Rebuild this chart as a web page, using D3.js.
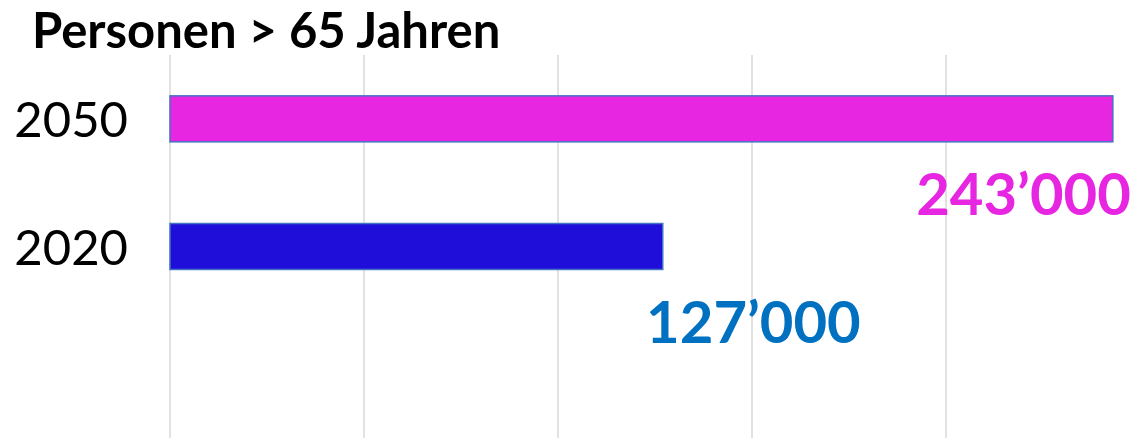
<!DOCTYPE html>
<html>
<head>
<meta charset="utf-8">
<script src="https://cdn.jsdelivr.net/npm/d3@7"></script>
<style>
  body { margin: 0; background: #fff; }
  svg text { font-family: Lato, "Open Sans", sans-serif; }
</style>
</head>
<body>
<div id="chart"></div>
<script>
// data
const title = "Personen > 65 Jahren";
const years = ["2050", "2020"];
const persons = [243000, 127000];
const valueLabels = ["243’000", "127’000"];
const gridTicks = [0, 50000, 100000, 150000, 200000, 250000];

const barColors = {"2050": "#e626e0", "2020": "#1f0dd9"};
const labelColors = {"2050": "#e626e0", "2020": "#0070c0"};

const width = 1131, height = 438;
const margin = { top: 55, right: 0, bottom: 0, left: 170 };

const svg = d3.select("#chart")
    .append("svg")
    .attr("width", width)
    .attr("height", height);

const xScale = d3.scaleLinear().domain([0, 50000]).range([margin.left, margin.left + 194]);
const step = (height - margin.top) / 3;
const yScale = d3.scaleBand().domain(years)
    .range([margin.top, margin.top + 2 * step])
    .paddingInner(0.64).paddingOuter(0.32);

// vertical gridlines
svg.append("g")
    .selectAll("line")
    .data(gridTicks)
    .join("line")
    .attr("x1", d => xScale(d))
    .attr("x2", d => xScale(d))
    .attr("y1", margin.top)
    .attr("y2", height)
    .attr("stroke", "#d9d9d9")
    .attr("stroke-width", 1.5);

// title
svg.append("text")
    .attr("x", 32)
    .attr("y", 48)
    .attr("font-size", 49)
    .attr("font-weight", "bold")
    .attr("fill", "#000")
    .text(title);

// bars
svg.append("g")
    .selectAll("rect")
    .data(years)
    .join("rect")
    .attr("x", xScale(0))
    .attr("y", d => yScale(d))
    .attr("width", (d, i) => xScale(persons[i]) - xScale(0))
    .attr("height", yScale.bandwidth())
    .attr("fill", d => barColors[d])
    .attr("stroke", "#4472c4")
    .attr("stroke-width", 1.5);

// year labels
svg.append("g")
    .selectAll("text")
    .data(years)
    .join("text")
    .attr("x", 128)
    .attr("y", d => yScale(d) + yScale.bandwidth() / 2 + 18)
    .attr("text-anchor", "end")
    .attr("font-size", 49)
    .attr("fill", "#000")
    .text(d => d);

// value labels, placed by hand under the bars like in the slide
const labelDx = {"2050": 18, "2020": 198};
svg.append("g")
    .selectAll("text")
    .data(years)
    .join("text")
    .attr("x", (d, i) => xScale(persons[i]) + labelDx[d])
    .attr("y", d => yScale(d) + yScale.bandwidth() / 2 + 96)
    .attr("text-anchor", "end")
    .attr("font-size", 58)
    .attr("font-weight", "bold")
    .attr("fill", d => labelColors[d])
    .text((d, i) => valueLabels[i]);
</script>
</body>
</html>
